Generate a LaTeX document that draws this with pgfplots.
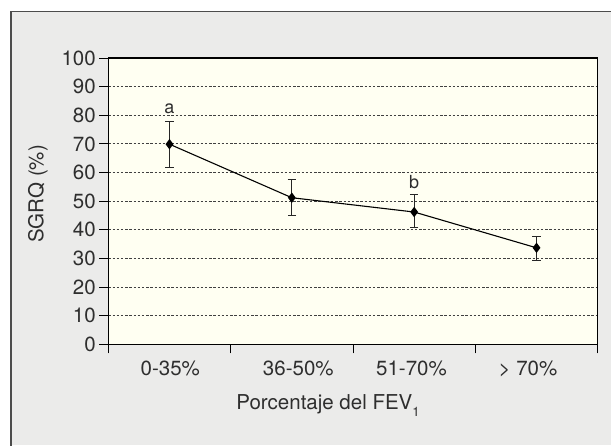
\documentclass[border=0pt]{standalone}
\usepackage{fontspec}
\setmainfont{TeX Gyre Heros}
\usepackage{pgfplots}
\pgfplotsset{compat=1.18}
\definecolor{framegray}{HTML}{EBEBEA}
\definecolor{cream}{HTML}{FFFFF2}
\definecolor{txt}{HTML}{2E2E2E}
\begin{document}
\begin{tikzpicture}[x=1pt,y=1pt]
\useasboundingbox (0,0) rectangle (611,445);
\fill[framegray] (11,0) rectangle (611,433.3);
\draw[line width=1.3pt, color=black!70] (11,-2) -- (11,433.3) -- (613,433.3);
\begin{axis}[
  at={(108.3pt,100.7pt)}, anchor=south west,
  scale only axis, width=489.4pt, height=286.3pt,
  xmin=0, xmax=4, ymin=0, ymax=100,
  ytick={0,10,...,100},
  xtick={0.507,1.553,2.478,3.430},
  xticklabels={0-35\%,36-50\%,51-70\%,> 70\%},
  xtick style={draw=none},
  extra x ticks={0,1,2,3,4},
  extra x tick labels={},
  extra x tick style={grid=none, xtick style={draw=black, line width=1pt}},
  tick align=outside, major tick length=9pt,
  xtick pos=bottom, ytick pos=left,
  ymajorgrids,
  grid style={dash pattern=on 2.5pt off 1.7pt, line width=0.8pt, color=black!75},
  axis background/.style={fill=cream},
  axis line style={line width=1.2pt, black},
  ytick style={line width=1pt, black},
  /pgf/number format/assume math mode=true,
  ticklabel style={font=\fontsize{20.5}{24}\selectfont, text=txt},
  xticklabel style={anchor=base, yshift=-21.7pt},
  label style={font=\fontsize{20.5}{24}\selectfont, text=txt},
  xlabel={Porcentaje del FEV\raisebox{-7pt}{\fontsize{13}{14}\selectfont 1}},
  x label style={at={(rel axis cs:0.449,-0.226)}, anchor=base},
  ylabel={SGRQ (\%)},
  y label style={at={(rel axis cs:-0.1437,0.525)}, anchor=center, rotate=0},
]
\addplot[black, line width=1.1pt, mark=diamond*, mark size=4.3pt,
  mark options={solid, fill=black},
  error bars/.cd, y dir=both, y explicit,
  error bar style={line width=0.9pt, color=black!85},
  error mark options={rotate=90, mark size=4.3pt, line width=0.9pt, black!85}]
coordinates {
  (0.5,69.9) += (0,8.0) -= (0,8.0)
  (1.5,51.2) += (0,6.5) -= (0,6.1)
  (2.5,46.2) += (0,6.2) -= (0,5.3)
  (3.5,33.7) += (0,4.1) -= (0,4.3)
};
\node[font=\fontsize{18}{20}\selectfont, text=txt] at (axis cs:0.5,82.4) {a};
\node[font=\fontsize{18}{20}\selectfont, text=txt] at (axis cs:2.5,56.6) {b};
\end{axis}
\end{tikzpicture}
\end{document}
